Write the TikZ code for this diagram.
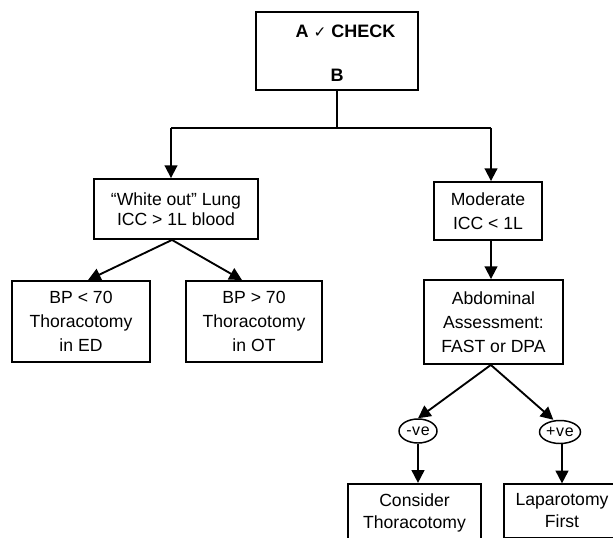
\documentclass[tikz,border=0pt]{standalone}
\usepackage{fontspec}
\setmainfont{Liberation Sans}
\newfontfamily\symfont{DejaVu Sans}
\usetikzlibrary{arrows.meta,shapes.geometric,calc}

\begin{document}
\begin{tikzpicture}[x=0.75pt,y=-0.75pt,
  box/.style={draw,line width=1.4pt,rectangle,inner sep=0pt,align=center,
    font=\fontsize{13.2}{18}\selectfont},
  oval/.style={draw,line width=1.1pt,ellipse,inner sep=0pt,
    font=\fontsize{12}{13}\selectfont\addfontfeature{LetterSpace=4}},
  title/.style={inner sep=0pt,font=\bfseries\fontsize{13.5}{16}\selectfont},
  link/.style={line width=1.4pt},
  arr/.style={link,-{Triangle[length=9.5pt,width=9.5pt]}},
]
\useasboundingbox (0,0) rectangle (613,538);
\clip (0,0) rectangle (613,538);

% top check box
\node[box,minimum width=121.5pt,minimum height=58.5pt] (chk) at (337,51) {};
\node[title] (chkA) at (345.5,31) {A {\symfont\mdseries\fontsize{11.5}{12}\selectfont ✓} CHECK};
\node[title] (chkB) at (337,75) {B};

% second level
\node[box,minimum width=123pt,minimum height=45pt,font=\fontsize{13.2}{15}\selectfont]
  (wl) at (176,209) {“White out” Lung\\ICC > 1L blood};
\node[box,minimum width=81pt,minimum height=43.5pt] (mod) at (488,211) {Moderate\\ICC < 1L};

% third level
\node[box,minimum width=103.5pt,minimum height=60.75pt] (bpl) at (81,321.5) {BP < 70\\Thoracotomy\\in ED};
\node[box,minimum width=102pt,minimum height=60.75pt] (bph) at (254,321.5) {BP > 70\\Thoracotomy\\in OT};
\node[box,minimum width=104.25pt,minimum height=63pt] (abd) at (493.5,322) {Abdominal\\Assessment:\\FAST or DPA};

% result ovals
\node[oval,minimum width=28.5pt,minimum height=18pt] (neg) at (418,431) {-ve};
\node[oval,minimum width=30.75pt,minimum height=17.25pt] (pos) at (560,432) {+ve};

% bottom boxes
\node[box,minimum width=99.75pt,minimum height=43pt,font=\fontsize{13.2}{16.5}\selectfont]
  (cons) at (414.5,512.5) {Consider\\Thoracotomy};
\node[box,minimum width=87pt,minimum height=40pt,font=\fontsize{13.2}{16.5}\selectfont]
  (lap) at (562,511) {Laparotomy\\First};

% branching junction under the check box
\coordinate (jl) at (171,128);
\coordinate (jr) at (491,128);
\draw[link] (chk.south) -- (chk.south |- jl);
\draw[link] (jl) -- (jr);
\draw[arr] (jl) -- (jl |- wl.north);
\draw[arr] (jr) -- (jr |- mod.north);
\draw[arr] (jr |- mod.south) -- (jr |- abd.north);

% left branch
\draw[arr] ([xshift=-3pt]wl.south) -- ([xshift=5.25pt]bpl.north);
\draw[arr] ([xshift=-3pt]wl.south) -- ([xshift=-9pt]bph.north);

% right branch
\draw[arr] ([xshift=-2pt]abd.south) -- (neg.north);
\draw[arr] ([xshift=-2pt]abd.south) -- ([xshift=-5pt]pos.north);
\draw[arr] (neg.south) -- (neg.south |- cons.north);
\draw[arr] (pos.south -| lap.north) -- (lap.north);
\end{tikzpicture}
\end{document}
